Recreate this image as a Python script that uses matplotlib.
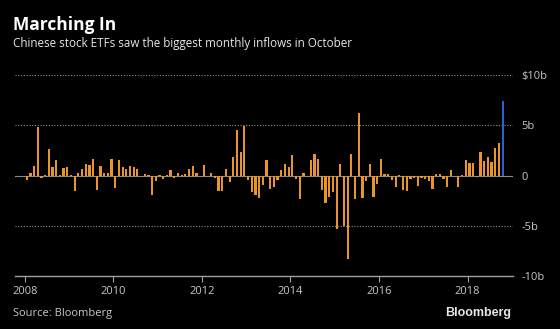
import numpy as np
import matplotlib.pyplot as plt

# monthly net flows into Chinese stock ETFs, Jan 2008 - Oct 2018 ($bn)
flows = [-0.4, 0.3, 0.9, 4.8, -0.2, 0.05, 2.6, 0.8, 1.5, 0.05, 0.7, 0.8,
         0.1, -1.5, 0.3, 0.6, 1.1, 1.0, 1.6, -1.4, 0.9, 0.3, 0.3, 1.6,
         -1.2, 1.5, 0.8, 0.6, 0.9, 0.8, 0.6, 0.0, 0.2, 0.05, -1.9, -0.5,
         0.1, -0.3, 0.05, 0.5, -0.2, 0.3, 0.1, 0.15, 0.6, 0.95, 0.3, 0.0,
         1.05, 0.0, 0.3, -0.2, -1.5, -1.5, 0.6, -0.6, 1.8, 4.5, 2.3, 4.9,
         -0.4, -1.6, -1.9, -2.2, -0.9, 1.5, -1.3, -1.1, -0.4, 0.5, 1.1, 0.8,
         2.0, -0.3, -2.3, 0.3, 0.0, 1.5, 2.1, 1.6, -1.4, -2.7, -2.1, -1.6,
         -5.3, 1.1, -5.0, -8.3, 2.1, -2.3, 6.2, -2.2, -0.5, 1.1, -2.1, -0.8,
         1.6, 0.2, 0.2, -0.4, -1.1, 0.1, -1.4, -1.5, -0.3, -0.2, -1.0, -0.2,
         -0.3, -0.5, -1.3, 0.2, 0.2, -0.3, -1.1, 0.5, 0.0, -1.1, 0.05, 1.5,
         1.2, 1.2, -0.1, 2.3, 1.4, 1.8, 1.3, 2.7, 3.2, 7.4]
years = [2008, 2010, 2012, 2014, 2016, 2018]
ytick_vals = [-10, -5, 0, 5, 10]
ytick_labels = ['-10b', '-5b', '0', '5b', '$10b']

t = 2008 + (np.arange(len(flows)) + 0.5) / 12
colors = ['#e8952b'] * (len(flows) - 1) + ['#2a62cf']

fig = plt.figure(figsize=(5.6, 3.29), dpi=100, facecolor='black')
ax = fig.add_axes([0.027, 0.161, 0.889, 0.611], facecolor='black')

ax.bar(t, flows, width=0.05, color=colors, zorder=3)
ax.axhline(0, color='#8a8a8a', lw=0.8, zorder=2)

ax.set_ylim(-10, 10)
ax.set_xlim(2007.78, 2019.025)
ax.set_yticks(ytick_vals)
ax.set_yticklabels(ytick_labels)
ax.yaxis.tick_right()
ax.set_xticks(years)
ax.set_xticklabels([str(y) for y in years])

# dotted grid
for y in [-5, 5, 10]:
    ax.axhline(y, color='#909090', lw=0.8, ls=(0, (1, 1.5)), zorder=1)

for s in ['top', 'right', 'left']:
    ax.spines[s].set_visible(False)
ax.spines['bottom'].set_color('#a0a0a0')
ax.spines['bottom'].set_linewidth(1.0)

ax.tick_params(axis='x', colors='#a0a0a0', length=4, width=0.8, labelcolor='#c8c8c8',
               labelsize=8, pad=3)
ax.tick_params(axis='y', length=0, labelcolor='#c8c8c8', labelsize=8, pad=6)
for lab in ax.get_xticklabels() + ax.get_yticklabels():
    lab.set_fontfamily('Open Sans')

fig.text(0.023, 0.925, 'Marching In', color='white', fontsize=12.5, fontweight='bold',
         family='Open Sans', va='center')
fig.text(0.023, 0.868, 'Chinese stock ETFs saw the biggest monthly inflows in October',
         color='#e6e6e6', fontsize=8.4, family='Open Sans', va='center')
fig.text(0.023, 0.048, 'Source: Bloomberg', color='#c8c8c8', fontsize=8,
         family='Open Sans', va='center')
fig.text(0.913, 0.048, 'Bloomberg', color='#e6e6e6', fontsize=9, fontweight='bold',
         family='Liberation Sans', va='center', ha='right')

fig.savefig('out.png', dpi=100, facecolor='black')
